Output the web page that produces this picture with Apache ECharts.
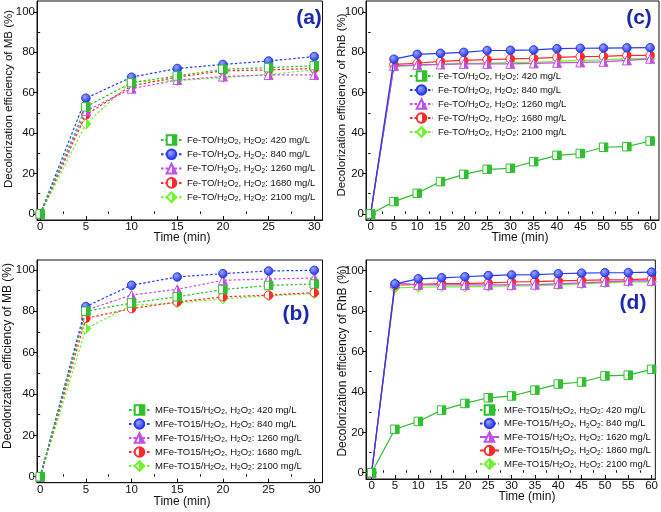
<!DOCTYPE html>
<html><head><meta charset="utf-8">
<script src="https://cdn.jsdelivr.net/npm/echarts@6/dist/echarts.min.js"></script>
<style>html,body{margin:0;padding:0;background:#fff}#c{width:661px;height:512px}</style>
</head><body><div id="c"></div>
<script>
// ---- data ----
const timeShort = [0,5,10,15,20,25,30];
const timeLong = [0,5,10,15,20,25,30,35,40,45,50,55,60];
const yTicks = [0,20,40,60,80,100];
const xTicksShort = [0,5,10,15,20,25,30];
const xTicksLong = [0,5,10,15,20,25,30,35,40,45,50,55,60];

const labelsA = ['Fe-TO/H₂O₂, H₂O₂: 420 mg/L','Fe-TO/H₂O₂, H₂O₂: 840 mg/L','Fe-TO/H₂O₂, H₂O₂: 1260 mg/L','Fe-TO/H₂O₂, H₂O₂: 1680 mg/L','Fe-TO/H₂O₂, H₂O₂: 2100 mg/L'];
const labelsB = ['MFe-TO15/H₂O₂, H₂O₂: 420 mg/L','MFe-TO15/H₂O₂, H₂O₂: 840 mg/L','MFe-TO15/H₂O₂, H₂O₂: 1260 mg/L','MFe-TO15/H₂O₂, H₂O₂: 1680 mg/L','MFe-TO15/H₂O₂, H₂O₂: 2100 mg/L'];
const labelsC = labelsA;
const labelsD = ['MFe-TO15/H₂O₂, H₂O₂: 420 mg/L','MFe-TO15/H₂O₂, H₂O₂: 840 mg/L','MFe-TO15/H₂O₂, H₂O₂: 1620 mg/L','MFe-TO15/H₂O₂, H₂O₂: 1860 mg/L','MFe-TO15/H₂O₂, H₂O₂: 2100 mg/L'];

const A_420  = [0,53,65,68.3,71.6,72.4,73.4];
const A_840  = [0,57.3,67.7,72,74,75.7,77.9];
const A_1260 = [0,51,62,66.3,68,68.8,68.8];
const A_1680 = [0,49,63.4,67.7,70.8,71.3,72];
const A_2100 = [0,44.5,65.5,66,67.5,69,71.3];

const B_420  = [0,80,84,87,90.5,92.5,93.2];
const B_840  = [0,82.3,92.6,96.6,98.2,99.5,99.8];
const B_1260 = [0,80.5,87.9,90.6,95,95.6,96.1];
const B_1680 = [0,76.6,81.3,84.5,87,87.8,89];
const B_2100 = [0,71.6,82.9,84,86,87.5,88.5];

const C_420  = [0,6.1,10.2,16,19.6,22.1,22.6,25.9,29,29.9,33,33.3,36.1];
const C_840  = [0,76.6,79,79.5,80,80.9,81,81.2,81.8,82,82.1,82.2,82.3];
const C_1260 = [0,73.3,73.8,74,74.3,74.3,74.3,74.5,74.8,75,75.3,76,76.8];
const C_1680 = [0,74,74.6,75.5,76,76.4,76.8,77,77.5,77.9,78,78.5,78.5];
const C_2100 = [0,73,73.5,74,74.5,74.6,75,75,75.5,76,76.3,76.8,77];

const D_420  = [0,21.5,25.4,31,34.3,37.1,38,40.9,43.9,44.9,47.9,48.3,51.2];
const D_840  = [0,93.5,96,96.5,97,97.6,97.9,98.1,98.5,98.8,99,99.1,99.3];
const D_1620 = [0,94,93,93,93,93,93,93.1,93.5,94,94.5,95,95];
const D_1860 = [0,92.8,93.2,93.6,93.6,94,94.4,94.6,95,95.2,95.5,95.6,96];
const D_2100 = [0,91.5,91.8,92,92,92.2,92.5,92.6,93,93.5,94,94.5,94.5];

// ---- styling ----
const COLORS = ['#2fbf2f','#2a3af0','#c44ee8','#ff2a2a','#6cf52a'];
const SYMBOLS = ['rect','circle','triangle','circle','diamond'];
function half(c){
  return new echarts.graphic.LinearGradient(0,0,1,0,[
    {offset:0,color:'#ffffff'},{offset:0.5,color:'#ffffff'},
    {offset:0.5,color:c},{offset:1,color:c}]);
}
function blueBall(){
  return new echarts.graphic.RadialGradient(0.38,0.35,0.65,[
    {offset:0,color:'#9aa6ff'},{offset:1,color:'#1f2fe6'}]);
}
const minorShort = [2.5,7.5,12.5,17.5,22.5,27.5];
const minorLong = [2.5,7.5,12.5,17.5,22.5,27.5,32.5,37.5,42.5,47.5,52.5,57.5];

const panels = [
  {grid:{left:37,top:1,width:285.5,height:219}, x:[-0.35,30.9], y:[-3,105.4], times:timeShort, xt:xTicksShort, xminor:minorShort,
   data:[A_420,A_840,A_1260,A_1680,A_2100], labels:labelsA, dashed:true,
   legend:{left:160,top:134,gap:2.3,w:21}},
  {grid:{left:366,top:1,width:293,height:219}, x:[-1.0,61.9], y:[-3,105.4], times:timeLong, xt:xTicksLong, xminor:minorLong,
   data:[C_420,C_840,C_1260,C_1680,C_2100], labels:labelsC, dashed:false,
   legend:{left:409,top:70,gap:2,w:23}},
  {grid:{left:37,top:260,width:285.5,height:222.7}, x:[-0.35,30.9], y:[-2.9,104.8], times:timeShort, xt:xTicksShort, xminor:minorShort,
   data:[B_420,B_840,B_1260,B_1680,B_2100], labels:labelsB, dashed:true,
   legend:{left:128,top:404,gap:2,w:21}},
  {grid:{left:366,top:260,width:293,height:219}, x:[-1.2,60.8], y:[-3.1,105.3], times:timeLong, xt:xTicksLong, xminor:minorLong,
   data:[D_420,D_840,D_1620,D_1860,D_2100], labels:labelsD, dashed:false,
   legend:{left:479,top:404,gap:1.5,w:19}}
];

const grids=[], xAxes=[], yAxes=[], series=[], legends=[];
const FONT = 'Liberation Sans, Arial, sans-serif';
const axisFont = {color:'#111', fontSize:11.5, fontFamily:FONT};
panels.forEach((p,i)=>{
  grids.push(Object.assign({show:true, borderColor:'#111', borderWidth:1, backgroundColor:'transparent'}, p.grid));
  xAxes.push({type:'value', gridIndex:i, min:p.x[0], max:p.x[1],
    axisLine:{show:true, onZero:false, lineStyle:{color:'#111',width:1}},
    axisTick:{show:true, inside:true, length:4, customValues:p.xt, lineStyle:{color:'#111'}},
    axisLabel:Object.assign({show:true, customValues:p.xt, margin:1}, axisFont),
    splitLine:{show:false}});
  yAxes.push({type:'value', gridIndex:i, min:p.y[0], max:p.y[1],
    axisLine:{show:true, onZero:false, lineStyle:{color:'#111',width:1}},
    axisTick:{show:true, inside:false, length:4, customValues:yTicks, lineStyle:{color:'#111'}},
    axisLabel:Object.assign({show:true, customValues:yTicks, margin:2}, axisFont),
    splitLine:{show:false}});
  xAxes.push({type:'value', gridIndex:i, min:p.x[0], max:p.x[1], position:'bottom',
    axisLine:{show:false}, axisLabel:{show:false}, splitLine:{show:false},
    axisTick:{show:true, inside:true, length:2.5, customValues:p.xminor, lineStyle:{color:'#111'}}});
  yAxes.push({type:'value', gridIndex:i, min:p.y[0], max:p.y[1], position:'left',
    axisLine:{show:false}, axisLabel:{show:false}, splitLine:{show:false},
    axisTick:{show:true, inside:false, length:2.5, customValues:[10,30,50,70,90], lineStyle:{color:'#111'}}});
  const xi = xAxes.length-2, yi = yAxes.length-2;
  p.data.forEach((arr,k)=>{
    const c = COLORS[k];
    series.push({
      name:p.labels[k], type:'line', xAxisIndex:xi, yAxisIndex:yi,
      data:p.times.map((t,j)=>[t,arr[j]]),
      symbol:SYMBOLS[k], symbolSize:k===2?9:(k===4?10:8.5),
      lineStyle:{color:c, width:1.2, type:p.dashed?[2.5,2]:'solid'},
      itemStyle:{color:k===1?blueBall():half(c), borderColor:c, borderWidth:1},
      emphasis:{disabled:true}, animation:false, z:10-k
    });
  });
  legends.push({
    left:p.legend.left, top:p.legend.top, orient:'vertical', itemGap:p.legend.gap, padding:0,
    itemWidth:p.legend.w, itemHeight:12, selectedMode:false,
    data:p.labels.map(n=>({name:n})),
    formatter:function(n){ return '{m|' + n.replace(/₂/g,'}{s|2}{m|') + '}'; },
    textStyle:{fontSize:9.5, color:'#111', fontFamily:FONT, lineHeight:12,
      rich:{
        m:{fontSize:9.5, fontFamily:FONT, color:'#111', lineHeight:12},
        s:{fontSize:6.5, fontFamily:FONT, color:'#111', lineHeight:12, padding:[5,0,0,0]}
      }}
  });
});

const txt = (x,y,s,opt)=>Object.assign({type:'text', x:x, y:y, style:Object.assign({text:s, fill:'#111', font:'11.5px '+FONT, align:'center', verticalAlign:'middle'}, opt||{})});
const tfont = {font:'12px '+FONT};
const lfont = {fill:'#1a2aa8', font:'bold 21px '+FONT};
const graphic = [
  Object.assign(txt(9,99,'Decolorization efficiency of MB (%)'),{rotation:Math.PI/2}),
  Object.assign(txt(342,105,'Decolorization efficiency of RhB (%)'),{rotation:Math.PI/2}),
  Object.assign(txt(8,356,'Decolorization efficiency of MB (%)',{font:'12px '+FONT}),{rotation:Math.PI/2}),
  Object.assign(txt(343,361,'Decolorization efficiency of RhB (%)',{font:'12px '+FONT}),{rotation:Math.PI/2}),
  txt(182,238,'Time (min)',tfont),
  txt(520,238,'Time (min)',tfont),
  txt(182,502,'Time (min)',tfont),
  txt(527,497,'Time (min)',tfont),
  txt(309,18,'(a)',lfont),
  txt(639,18,'(c)',lfont),
  txt(296,314,'(b)',lfont),
  txt(633,303,'(d)',lfont)
];

const chart = echarts.init(document.getElementById('c'), null, {renderer:'canvas'});
chart.setOption({animation:false, backgroundColor:'#fff', grid:grids, xAxis:xAxes, yAxis:yAxes, series:series, legend:legends, graphic:graphic});
</script></body></html>
